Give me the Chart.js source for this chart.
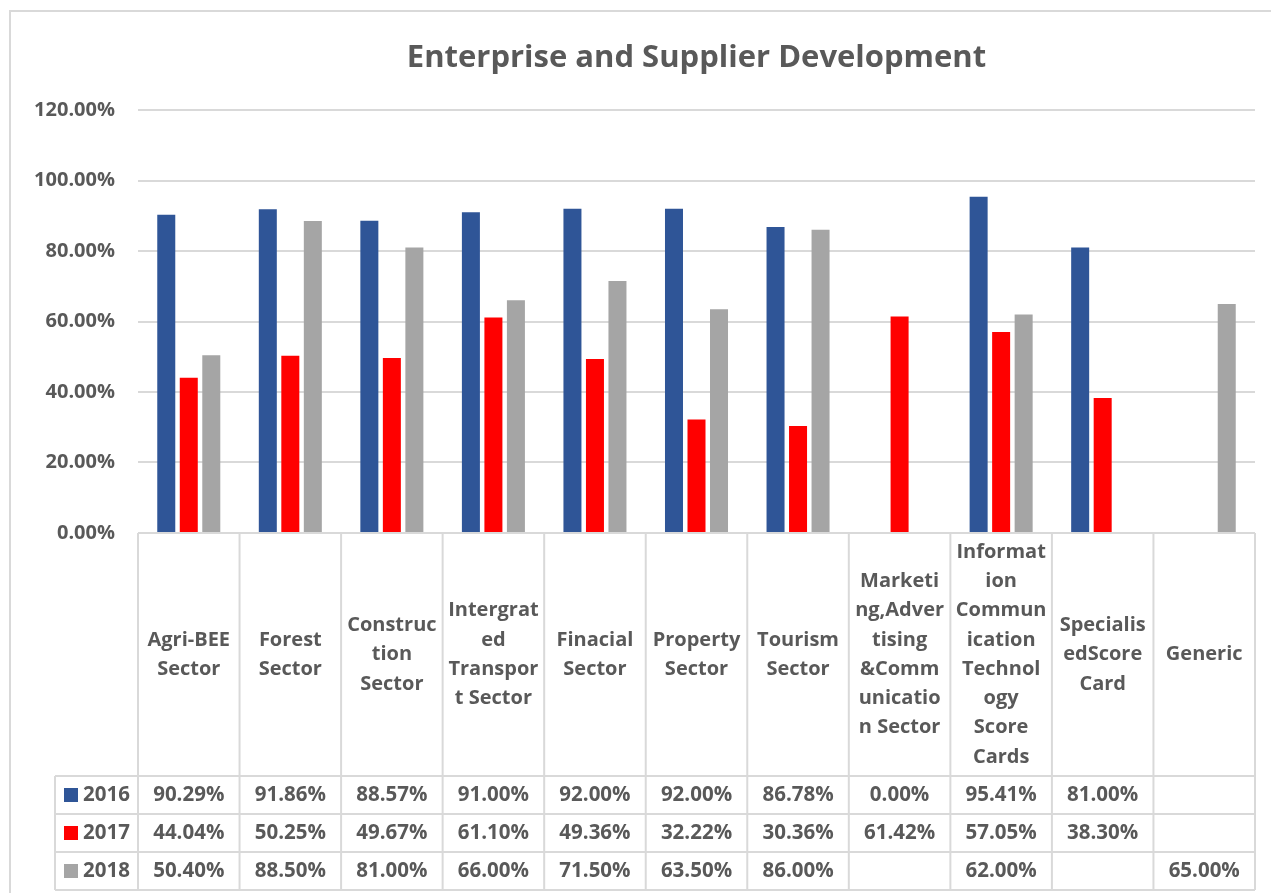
<!DOCTYPE html>
<html>
<head>
<meta charset="utf-8" />
<script src="https://cdn.jsdelivr.net/npm/chart.js@4.4.1/dist/chart.umd.min.js"></script>
<style>
  body { margin:0; background:#fff; overflow:hidden; }
  #holder { width:1271px; height:893px; }
</style>
</head>
<body>
<div id="holder"><canvas id="esd" width="1271" height="893"></canvas></div>
<script>
// category names, wrapped the way the table cells wrap them
const sectors = [
  ["Agri-BEE", "Sector"],
  ["Forest", "Sector"],
  ["Construc", "tion", "Sector"],
  ["Intergrat", "ed", "Transpor", "t Sector"],
  ["Finacial", "Sector"],
  ["Property", "Sector"],
  ["Tourism", "Sector"],
  ["Marketi", "ng,Adver", "tising", "&Comm", "unicatio", "n Sector"],
  ["Informat", "ion", "Commun", "ication", "Technol", "ogy", "Score", "Cards"],
  ["Specialis", "edScore", "Card"],
  ["Generic"]
];
const years = ["2016", "2017", "2018"];
const v2016 = [0.9029, 0.9186, 0.8857, 0.91, 0.92, 0.92, 0.8678, 0.0, 0.9541, 0.81, null];
const v2017 = [0.4404, 0.5025, 0.4967, 0.611, 0.4936, 0.3222, 0.3036, 0.6142, 0.5705, 0.383, null];
const v2018 = [0.504, 0.885, 0.81, 0.66, 0.715, 0.635, 0.86, null, 0.62, null, 0.65];
const yearColors = ["#2F5597", "#FF0000", "#A5A5A5"];
const yTicks = [0, 0.2, 0.4, 0.6, 0.8, 1.0, 1.2];

const TEXT = "#595959";
const LINE = "#d9d9d9";
const FONT = "'Open Sans', 'Liberation Sans', sans-serif";

const fmt = v => (v === null || v === undefined) ? "" : (v * 100).toFixed(2) + "%";

// draws the chart frame and the data table under the plot
const dataTable = {
  id: "dataTable",
  beforeDraw(chart) {
    const c = chart.ctx;
    c.save();
    c.strokeStyle = LINE;
    c.lineWidth = 2;
    c.strokeRect(10, 11, chart.width + 20, chart.height + 20);
    c.restore();
  },
  afterDraw(chart) {
    const c = chart.ctx;
    const area = chart.chartArea;
    const xs = chart.scales.x;
    const n = sectors.length;
    const cw = (area.right - area.left) / n;
    const headTop = area.bottom, headBot = 776, rowH = 38;
    const legLeft = 55;
    const rows = [v2016, v2017, v2018];
    const tableBot = headBot + rowH * rows.length;

    c.save();
    c.strokeStyle = LINE;
    c.lineWidth = 2;
    c.beginPath();
    // top line under the bars
    c.moveTo(area.left, headTop); c.lineTo(area.right, headTop);
    // row lines
    for (let r = 0; r <= rows.length; r++) {
      const y = headBot + r * rowH;
      c.moveTo(legLeft, y); c.lineTo(area.right, y);
    }
    // column lines
    for (let i = 0; i <= n; i++) {
      const x = area.left + i * cw;
      c.moveTo(x, headTop); c.lineTo(x, tableBot);
    }
    c.moveTo(legLeft, headBot); c.lineTo(legLeft, tableBot);
    c.stroke();

    c.fillStyle = TEXT;
    c.textAlign = "center";
    c.textBaseline = "middle";

    // category headers
    c.font = "bold 20px " + FONT;
    const lh = 29.3;
    const midHead = (headTop + headBot) / 2;
    sectors.forEach((lines, i) => {
      const cx = xs.getPixelForValue(i);
      const y0 = midHead - (lines.length - 1) * lh / 2;
      lines.forEach((t, k) => c.fillText(t, cx, y0 + k * lh));
    });

    // values
    c.font = "bold 20.5px " + FONT;
    rows.forEach((vals, r) => {
      const cy = headBot + r * rowH + rowH / 2;
      vals.forEach((v, i) => {
        c.fillText(fmt(v), xs.getPixelForValue(i), cy);
      });
      // legend key
      c.fillStyle = yearColors[r];
      c.fillRect(64, cy - 7, 14, 14);
      c.fillStyle = TEXT;
      c.textAlign = "left";
      c.fillText(years[r], 83, cy);
      c.textAlign = "center";
    });
    c.restore();
  }
};

new Chart(document.getElementById("esd"), {
  type: "bar",
  data: {
    labels: sectors.map(s => s.join(" ")),
    datasets: [
      { label: years[0], data: v2016, backgroundColor: yearColors[0] },
      { label: years[1], data: v2017, backgroundColor: yearColors[1] },
      { label: years[2], data: v2018, backgroundColor: yearColors[2] }
    ]
  },
  options: {
    responsive: false,
    animation: false,
    layout: { padding: { left: 0, right: 16, top: 0, bottom: 360 } },
    datasets: { bar: { barPercentage: 0.8, categoryPercentage: 0.665 } },
    plugins: {
      legend: { display: false },
      tooltip: { enabled: false },
      title: {
        display: true,
        fullSize: false,
        text: "Enterprise and Supplier Development",
        color: TEXT,
        font: { family: FONT, size: 31, weight: "bold", lineHeight: 1.2 },
        padding: { top: 40, bottom: 32.8 }
      }
    },
    scales: {
      x: { display: false },
      y: {
        min: 0, max: 1.2,
        afterBuildTicks: s => { s.ticks = yTicks.map(v => ({ value: v })); },
        afterFit: s => { s.width = 138; },
        border: { display: false },
        grid: { color: LINE, lineWidth: 2, drawTicks: false },
        ticks: {
          padding: 23,
          color: TEXT,
          font: { family: FONT, size: 20, weight: "bold" },
          callback: v => (v * 100).toFixed(2) + "%"
        }
      }
    }
  },
  plugins: [dataTable]
});
</script>
</body>
</html>
